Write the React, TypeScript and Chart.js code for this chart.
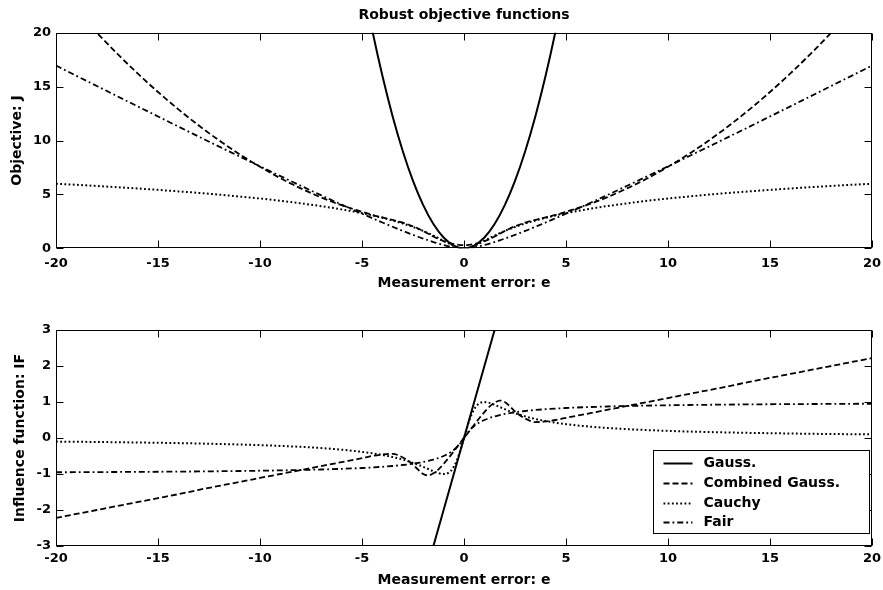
import React, { useEffect, useRef } from 'react';
import { Chart, registerables } from 'chart.js';

Chart.register(...registerables);

// ---------- data ----------
const E = [-20, -19, -18, -17, -16, -15, -14, -13, -12, -11, -10, -9, -8, -7, -6, -5,
  -4.5, -4, -3.5, -3,
  -2.5, -2.25, -2, -1.75, -1.5, -1.25, -1, -0.75, -0.5, -0.25, 0, 0.25, 0.5, 0.75, 1, 1.25, 1.5, 1.75, 2, 2.25, 2.5,
  3, 3.5, 4, 4.5,
  5, 6, 7, 8, 9, 10, 11, 12, 13, 14, 15, 16, 17, 18, 19, 20];

const E_GAUSS = [-5, -4.5, -4, -3.5, -3, -2.5, -2, -1.5, -1, -0.5, 0, 0.5, 1, 1.5, 2, 2.5, 3, 3.5, 4, 4.5, 5];
const GAUSS_J = [25, 20.25, 16, 12.25, 9, 6.25, 4, 2.25, 1, 0.25, 0, 0.25, 1, 2.25, 4, 6.25, 9, 12.25, 16, 20.25, 25];
const GAUSS_IF = [-10, -9, -8, -7, -6, -5, -4, -3, -2, -1, 0, 1, 2, 3, 4, 5, 6, 7, 8, 9, 10];

const COMBINED_J = [24.22, 22.06, 20.0, 18.06, 16.22, 14.5, 12.89, 11.39, 10.0, 8.72, 7.56, 6.5, 5.56, 4.72, 4.0, 3.39,
  3.1, 2.86, 2.63, 2.38,
  2.04, 1.84, 1.6, 1.35, 1.09, 0.86, 0.66, 0.5, 0.39, 0.32, 0.3, 0.32, 0.39, 0.5, 0.66, 0.86, 1.09, 1.35, 1.6, 1.84, 2.04,
  2.38, 2.63, 2.86, 3.1,
  3.39, 4.0, 4.72, 5.56, 6.5, 7.56, 8.72, 10.0, 11.39, 12.89, 14.5, 16.22, 18.06, 20.0, 22.06, 24.22];
const COMBINED_IF = [-2.22, -2.11, -2.0, -1.89, -1.78, -1.67, -1.56, -1.44, -1.33, -1.22, -1.11, -1.0, -0.89, -0.78, -0.67, -0.56,
  -0.5, -0.46, -0.44, -0.54,
  -0.74, -0.88, -1.0, -1.04, -0.98, -0.87, -0.72, -0.55, -0.37, -0.18, 0, 0.18, 0.37, 0.55, 0.72, 0.87, 0.98, 1.04, 1.0, 0.88, 0.74,
  0.54, 0.44, 0.46, 0.5,
  0.56, 0.67, 0.78, 0.89, 1.0, 1.11, 1.22, 1.33, 1.44, 1.56, 1.67, 1.78, 1.89, 2.0, 2.11, 2.22];

const CAUCHY_J = [5.99, 5.89, 5.78, 5.67, 5.55, 5.42, 5.28, 5.14, 4.98, 4.8, 4.62, 4.41, 4.17, 3.91, 3.61, 3.26,
  3.06, 2.83, 2.58, 2.3,
  1.98, 1.8, 1.61, 1.4, 1.18, 0.94, 0.69, 0.45, 0.22, 0.06, 0, 0.06, 0.22, 0.45, 0.69, 0.94, 1.18, 1.4, 1.61, 1.8, 1.98,
  2.3, 2.58, 2.83, 3.06,
  3.26, 3.61, 3.91, 4.17, 4.41, 4.62, 4.8, 4.98, 5.14, 5.28, 5.42, 5.55, 5.67, 5.78, 5.89, 5.99];
const CAUCHY_IF = [-0.1, -0.105, -0.111, -0.117, -0.125, -0.133, -0.142, -0.153, -0.166, -0.18, -0.198, -0.22, -0.246, -0.28, -0.324, -0.385,
  -0.424, -0.471, -0.528, -0.6,
  -0.69, -0.742, -0.8, -0.862, -0.923, -0.976, -1.0, -0.96, -0.8, -0.47, 0, 0.47, 0.8, 0.96, 1.0, 0.976, 0.923, 0.862, 0.8, 0.742, 0.69,
  0.6, 0.528, 0.471, 0.424,
  0.385, 0.324, 0.28, 0.246, 0.22, 0.198, 0.18, 0.166, 0.153, 0.142, 0.133, 0.125, 0.117, 0.111, 0.105, 0.1];

const FAIR_J = [16.95, 16.0, 15.06, 14.11, 13.17, 12.23, 11.29, 10.36, 9.43, 8.52, 7.6, 6.7, 5.8, 4.92, 4.05, 3.21,
  2.8, 2.39, 2.0, 1.61,
  1.25, 1.07, 0.9, 0.74, 0.58, 0.44, 0.31, 0.19, 0.09, 0.03, 0, 0.03, 0.09, 0.19, 0.31, 0.44, 0.58, 0.74, 0.9, 1.07, 1.25,
  1.61, 2.0, 2.39, 2.8,
  3.21, 4.05, 4.92, 5.8, 6.7, 7.6, 8.52, 9.43, 10.36, 11.29, 12.23, 13.17, 14.11, 15.06, 16.0, 16.95];
const FAIR_IF = [-0.952, -0.95, -0.947, -0.944, -0.941, -0.938, -0.933, -0.929, -0.923, -0.917, -0.909, -0.9, -0.889, -0.875, -0.857, -0.833,
  -0.818, -0.8, -0.778, -0.75,
  -0.714, -0.692, -0.667, -0.636, -0.6, -0.556, -0.5, -0.429, -0.333, -0.2, 0, 0.2, 0.333, 0.429, 0.5, 0.556, 0.6, 0.636, 0.667, 0.692, 0.714,
  0.75, 0.778, 0.8, 0.818,
  0.833, 0.857, 0.875, 0.889, 0.9, 0.909, 0.917, 0.923, 0.929, 0.933, 0.938, 0.941, 0.944, 0.947, 0.95, 0.952];

const SERIES_NAMES = ['Gauss.', 'Combined Gauss.', 'Cauchy', 'Fair'];
const X_TICKS = [-20, -15, -10, -5, 0, 5, 10, 15, 20];
const J_TICKS = [0, 5, 10, 15, 20];
const IF_TICKS = [-3, -2, -1, 0, 1, 2, 3];

const TITLE = 'Robust objective functions';
const X_LABEL = 'Measurement error: e';
const J_LABEL = 'Objective: J';
const IF_LABEL = 'Influence function: IF';

// ---------- styling ----------
const FONT = '"DejaVu Sans", "Liberation Sans", sans-serif';
const DASHES = [[], [6, 3], [1.8, 2.4], [6, 3, 1.8, 3]];
const WIDTHS = [2, 1.8, 2, 1.8];

const pts = (xs: number[], ys: number[]) => xs.map((x, i) => ({ x, y: ys[i] }));

const makeDatasets = (series: { xs: number[]; ys: number[] }[]) =>
  series.map((s, i) => ({
    label: SERIES_NAMES[i],
    data: pts(s.xs, s.ys),
    borderColor: '#000',
    backgroundColor: '#000',
    borderWidth: WIDTHS[i],
    borderDash: DASHES[i],
    pointRadius: 0,
    fill: false,
    cubicInterpolationMode: 'monotone',
  }));

const boxPlugin = {
  id: 'matlabBox',
  afterDatasetsDraw(chart: any) {
    const { ctx, chartArea } = chart;
    const L = Math.round(chartArea.left) + 0.5;
    const R = Math.round(chartArea.right) - 0.5;
    const T = Math.round(chartArea.top) + 0.5;
    const B = Math.round(chartArea.bottom) - 0.5;
    const tl = 7;
    ctx.save();
    ctx.setLineDash([]);
    ctx.strokeStyle = '#000';
    ctx.lineWidth = 1;
    ctx.strokeRect(L, T, R - L, B - T);
    ctx.beginPath();
    chart.scales.x.ticks.forEach((t: any) => {
      const px = Math.round(chart.scales.x.getPixelForValue(t.value)) + 0.5;
      ctx.moveTo(px, B); ctx.lineTo(px, B - tl);
      ctx.moveTo(px, T); ctx.lineTo(px, T + tl);
    });
    chart.scales.y.ticks.forEach((t: any) => {
      const py = Math.round(chart.scales.y.getPixelForValue(t.value)) + 0.5;
      ctx.moveTo(L, py); ctx.lineTo(L + tl, py);
      ctx.moveTo(R, py); ctx.lineTo(R - tl, py);
    });
    ctx.stroke();
    ctx.restore();
  },
};

const legendPlugin = {
  id: 'boxLegend',
  afterDraw(chart: any) {
    const { ctx, chartArea } = chart;
    const w = 216;
    const h = 83;
    const x0 = Math.round(chartArea.right - 3 - w) + 0.5;
    const y0 = Math.round(chartArea.bottom - 13.5 - h) + 0.5;
    ctx.save();
    ctx.fillStyle = '#fff';
    ctx.fillRect(x0, y0, w, h);
    ctx.setLineDash([]);
    ctx.strokeStyle = '#000';
    ctx.lineWidth = 1;
    ctx.strokeRect(x0, y0, w, h);
    chart.data.datasets.forEach((ds: any, i: number) => {
      const y = Math.round(y0 + 12.4 + i * 19.8) + 0.5;
      ctx.beginPath();
      ctx.setLineDash(ds.borderDash || []);
      ctx.lineWidth = ds.borderWidth;
      ctx.strokeStyle = '#000';
      ctx.moveTo(x0 + 10, y);
      ctx.lineTo(x0 + 39, y);
      ctx.stroke();
      ctx.setLineDash([]);
      ctx.fillStyle = '#000';
      ctx.font = `bold 14px ${FONT}`;
      ctx.textBaseline = 'middle';
      ctx.textAlign = 'left';
      ctx.fillText(ds.label, x0 + 50, y);
    });
    ctx.restore();
  },
};

const tickFont = { family: FONT, size: 13, weight: 'bold' as const };
const labelFont = { family: FONT, size: 14, weight: 'bold' as const };

function makeOptions(p: {
  yMin: number; yMax: number; yTicks: number[]; yLabel: string; yTitlePad: number;
  xAxisHeight: number; xTickGap: number; xTitlePadBottom: number; topPad: number; title?: string;
}) {
  return {
    responsive: false,
    animation: false,
    devicePixelRatio: 1,
    events: [],
    layout: { autoPadding: false, padding: { left: 0, right: 11, top: p.topPad, bottom: 0 } },
    plugins: {
      legend: { display: false },
      tooltip: { enabled: false },
      title: p.title
        ? {
            display: true, text: p.title, color: '#000', font: labelFont, fullSize: false,
            padding: { top: 6.6, bottom: 9.3 },
          }
        : { display: false },
    },
    scales: {
      x: {
        type: 'linear', min: -20, max: 20,
        afterBuildTicks: (s: any) => { s.ticks = X_TICKS.map((v) => ({ value: v })); },
        afterFit: (s: any) => { s.height = p.xAxisHeight; },
        grid: { display: false, drawTicks: true, tickLength: p.xTickGap },
        border: { display: false },
        ticks: {
          color: '#000', font: tickFont, padding: 0, maxRotation: 0, autoSkip: false,
          callback: (v: any) => String(v),
        },
        title: {
          display: true, text: X_LABEL, color: '#000', font: labelFont,
          padding: { top: 0, bottom: p.xTitlePadBottom },
        },
      },
      y: {
        type: 'linear', min: p.yMin, max: p.yMax,
        afterBuildTicks: (s: any) => { s.ticks = p.yTicks.map((v) => ({ value: v })); },
        afterFit: (s: any) => { s.width = 56; },
        grid: { display: false, drawTicks: true, tickLength: 5 },
        border: { display: false },
        ticks: { color: '#000', font: tickFont, padding: 0, autoSkip: false, callback: (v: any) => String(v) },
        title: {
          display: true, text: p.yLabel, color: '#000', font: labelFont,
          padding: { top: p.yTitlePad, bottom: 0 },
        },
      },
    },
  };
}

export default function App() {
  const topRef = useRef<HTMLCanvasElement>(null);
  const botRef = useRef<HTMLCanvasElement>(null);

  useEffect(() => {
    const top = new Chart(topRef.current as HTMLCanvasElement, {
      type: 'line',
      data: {
        datasets: makeDatasets([
          { xs: E_GAUSS, ys: GAUSS_J },
          { xs: E, ys: COMBINED_J },
          { xs: E, ys: CAUCHY_J },
          { xs: E, ys: FAIR_J },
        ]) as any,
      },
      options: makeOptions({
        yMin: 0, yMax: 20, yTicks: J_TICKS, yLabel: J_LABEL, yTitlePad: 9.3,
        xAxisHeight: 46.7, xTickGap: 7.2, xTitlePadBottom: 3.6, topPad: 0, title: TITLE,
      }) as any,
      plugins: [boxPlugin],
    });
    const bot = new Chart(botRef.current as HTMLCanvasElement, {
      type: 'line',
      data: {
        datasets: makeDatasets([
          { xs: E_GAUSS, ys: GAUSS_IF },
          { xs: E, ys: COMBINED_IF },
          { xs: E, ys: CAUCHY_IF },
          { xs: E, ys: FAIR_IF },
        ]) as any,
      },
      options: makeOptions({
        yMin: -3, yMax: 3, yTicks: IF_TICKS, yLabel: IF_LABEL, yTitlePad: 12.4,
        xAxisHeight: 44, xTickGap: 5, xTitlePadBottom: 1.6, topPad: 35,
      }) as any,
      plugins: [boxPlugin, legendPlugin],
    });
    return () => {
      top.destroy();
      bot.destroy();
    };
  }, []);

  return (
    <div style={{ position: 'absolute', left: 0, top: 0, width: 883, height: 590, background: '#fff' }}>
      <canvas ref={topRef} width={883} height={295} style={{ display: 'block', width: 883, height: 295 }} />
      <canvas ref={botRef} width={883} height={295} style={{ display: 'block', width: 883, height: 295 }} />
    </div>
  );
}
